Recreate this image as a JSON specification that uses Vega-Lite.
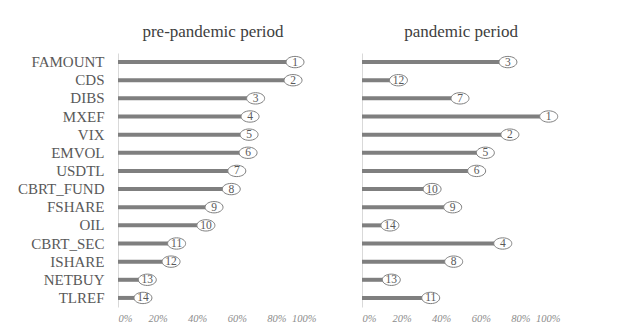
{
  "$schema": "https://vega.github.io/schema/vega-lite/v6.json",
  "background": "white",
  "padding": {"left": 15, "top": 23, "right": 5, "bottom": 5},
  "bounds": "flush",
  "spacing": 46,
  "config": {"view": {"stroke": null}, "font": "Liberation Serif"},
  "data": {"values": [
    {"var": "FAMOUNT", "period": "pre", "value": 0.894, "rank": 1},
    {"var": "CDS", "period": "pre", "value": 0.884, "rank": 2},
    {"var": "DIBS", "period": "pre", "value": 0.695, "rank": 3},
    {"var": "MXEF", "period": "pre", "value": 0.667, "rank": 4},
    {"var": "VIX", "period": "pre", "value": 0.662, "rank": 5},
    {"var": "EMVOL", "period": "pre", "value": 0.657, "rank": 6},
    {"var": "USDTL", "period": "pre", "value": 0.600, "rank": 7},
    {"var": "CBRT_FUND", "period": "pre", "value": 0.572, "rank": 8},
    {"var": "FSHARE", "period": "pre", "value": 0.485, "rank": 9},
    {"var": "OIL", "period": "pre", "value": 0.444, "rank": 10},
    {"var": "CBRT_SEC", "period": "pre", "value": 0.296, "rank": 11},
    {"var": "ISHARE", "period": "pre", "value": 0.268, "rank": 12},
    {"var": "NETBUY", "period": "pre", "value": 0.148, "rank": 13},
    {"var": "TLREF", "period": "pre", "value": 0.126, "rank": 14},
    {"var": "FAMOUNT", "period": "pan", "value": 0.737, "rank": 3},
    {"var": "CDS", "period": "pan", "value": 0.184, "rank": 12},
    {"var": "DIBS", "period": "pan", "value": 0.495, "rank": 7},
    {"var": "MXEF", "period": "pan", "value": 0.943, "rank": 1},
    {"var": "VIX", "period": "pan", "value": 0.747, "rank": 2},
    {"var": "EMVOL", "period": "pan", "value": 0.623, "rank": 5},
    {"var": "USDTL", "period": "pan", "value": 0.579, "rank": 6},
    {"var": "CBRT_FUND", "period": "pan", "value": 0.354, "rank": 10},
    {"var": "FSHARE", "period": "pan", "value": 0.458, "rank": 9},
    {"var": "OIL", "period": "pan", "value": 0.141, "rank": 14},
    {"var": "CBRT_SEC", "period": "pan", "value": 0.711, "rank": 4},
    {"var": "ISHARE", "period": "pan", "value": 0.463, "rank": 8},
    {"var": "NETBUY", "period": "pan", "value": 0.148, "rank": 13},
    {"var": "TLREF", "period": "pan", "value": 0.347, "rank": 11}
  ]},
  "hconcat": [
    {
      "width": 198,
      "height": 254,
      "title": {"text": "pre-pandemic period", "fontSize": 17, "font": "Liberation Serif", "fontWeight": "normal", "color": "#404040", "offset": 12, "anchor": "middle", "dx": -4},
      "transform": [{"filter": "datum.period === 'pre'"}],
      "encoding": {
        "y": {"field": "var", "type": "nominal",
          "sort": ["FAMOUNT","CDS","DIBS","MXEF","VIX","EMVOL","USDTL","CBRT_FUND","FSHARE","OIL","CBRT_SEC","ISHARE","NETBUY","TLREF"],
          "scale": {"paddingInner": 0, "paddingOuter": 0},
          "axis": {"title": null, "ticks": false, "labelPadding": 14, "labelFontSize": 15, "labelColor": "#595959", "labelFont": "Liberation Serif", "domainColor": "#d9d9d9", "domainWidth": 1, "minExtent": 103, "maxExtent": 103}},
        "x": {"field": "value", "type": "quantitative",
          "scale": {"domain": [0, 1], "nice": false},
          "axis": {"title": null, "values": [0, 0.2, 0.4, 0.6, 0.8, 1], "format": ".0%", "grid": false, "domain": false, "ticks": false, "labelPadding": 6, "labelFontSize": 10.5, "labelFontStyle": "italic", "labelColor": "#8c8c8c", "labelFont": "Liberation Serif"}}
      },
      "layer": [
        {"mark": {"type": "bar", "height": 4, "color": "#7f7f7f"}},
        {"mark": {"type": "point", "shape": "M-1,0A1,0.63,0,1,0,1,0A1,0.63,0,1,0,-1,0Z", "size": 324, "filled": false, "fill": "white", "fillOpacity": 1, "stroke": "#7f7f7f", "strokeWidth": 1, "opacity": 1}},
        {"mark": {"type": "text", "fontSize": 11.5, "color": "#595959", "font": "Liberation Serif", "baseline": "middle", "align": "center", "dy": 0.5}, "encoding": {"text": {"field": "rank", "type": "quantitative"}}}
      ]
    },
    {
      "width": 198,
      "height": 254,
      "title": {"text": "pandemic period", "fontSize": 17, "font": "Liberation Serif", "fontWeight": "normal", "color": "#404040", "offset": 12, "anchor": "middle"},
      "transform": [{"filter": "datum.period === 'pan'"}],
      "encoding": {
        "y": {"field": "var", "type": "nominal",
          "sort": ["FAMOUNT","CDS","DIBS","MXEF","VIX","EMVOL","USDTL","CBRT_FUND","FSHARE","OIL","CBRT_SEC","ISHARE","NETBUY","TLREF"],
          "scale": {"paddingInner": 0, "paddingOuter": 0},
          "axis": {"title": null, "ticks": false, "labels": false, "domainColor": "#d9d9d9", "domainWidth": 1, "minExtent": 0, "maxExtent": 0}},
        "x": {"field": "value", "type": "quantitative",
          "scale": {"domain": [0, 1], "nice": false},
          "axis": {"title": null, "values": [0, 0.2, 0.4, 0.6, 0.8, 1], "format": ".0%", "grid": false, "domain": false, "ticks": false, "labelPadding": 6, "labelFontSize": 10.5, "labelFontStyle": "italic", "labelColor": "#8c8c8c", "labelFont": "Liberation Serif"}}
      },
      "layer": [
        {"mark": {"type": "bar", "height": 4, "color": "#7f7f7f"}},
        {"mark": {"type": "point", "shape": "M-1,0A1,0.63,0,1,0,1,0A1,0.63,0,1,0,-1,0Z", "size": 324, "filled": false, "fill": "white", "fillOpacity": 1, "stroke": "#7f7f7f", "strokeWidth": 1, "opacity": 1}},
        {"mark": {"type": "text", "fontSize": 11.5, "color": "#595959", "font": "Liberation Serif", "baseline": "middle", "align": "center", "dy": 0.5}, "encoding": {"text": {"field": "rank", "type": "quantitative"}}}
      ]
    }
  ]
}
